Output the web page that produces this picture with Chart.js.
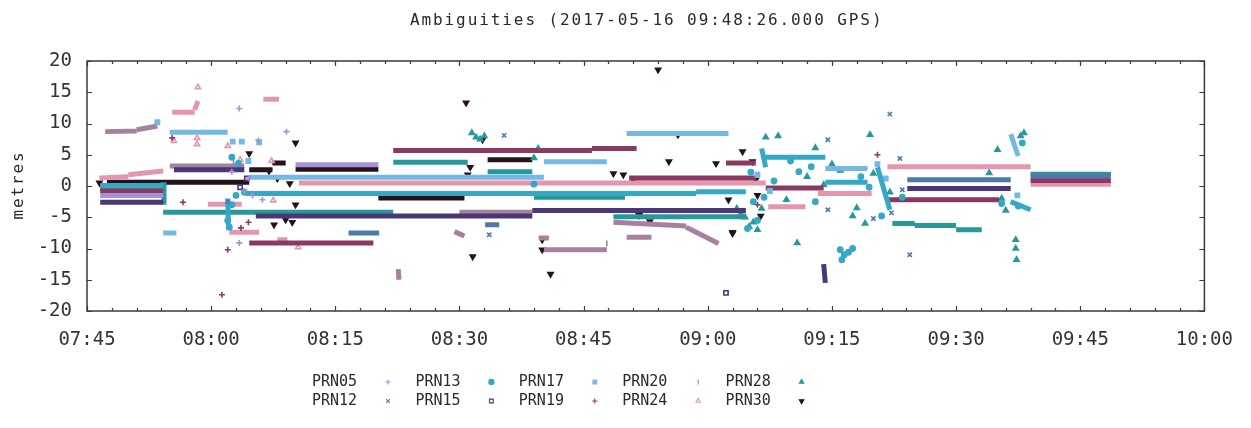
<!DOCTYPE html>
<html>
<head>
<meta charset="utf-8">
<title>Ambiguities</title>
<script src="https://cdn.jsdelivr.net/npm/chart.js@4.4.1/dist/chart.umd.min.js"></script>
<style>
  html, body { margin: 0; padding: 0; background: #fff; }
  #wrap { width: 1251px; height: 428px; position: relative; }
</style>
</head>
<body>
<div id="wrap"><canvas id="myChart" width="1251" height="428"></canvas></div>
<script>
/* globals Chart:false */

// Axis ranges and ticks
const timeMin = "07:45";
const timeMax = "10:00";
const timeStep = 15;
const minorStep = 3;
const yTicks = [-20, -15, -10, -5, 0, 5, 10, 15, 20];

const titleText = "Ambiguities (2017-05-16 09:48:26.000 GPS)";
const yTitle = "metres";

const prnNames = ["PRN05", "PRN12", "PRN13", "PRN15", "PRN17", "PRN19", "PRN20", "PRN24", "PRN28", "PRN30"];

// Each arc: [start, end, value at start, value at end (optional)]
const prn05Arcs = [
  ["07:46.6", "07:54.2", -1.5],
  ["08:10.2", "08:20.2", 3.4],
];
const prn05Points = [
  ["08:03.4", 12.4], ["08:05.7", 7.3], ["08:09.1", 8.7], ["08:04.5", 1.3],
  ["08:05", -1.5], ["08:04", -0.8], ["08:02.5", 2.3], ["08:06.2", -2.2], ["08:03.4", -9.1],
];

const prn12Arcs = [
  ["08:16.6", "08:20.3", -7.5],
  ["08:33.1", "08:34.8", -6.2],
  ["09:24.1", "09:36.6", 1.0],
  ["09:39", "09:48.7", 1.6],
];
const prn12Points = [
  ["08:35.4", 8.1], ["08:33.6", -7.8], ["09:22", 11.5], ["09:14.5", 7.4], ["09:23.2", 4.4],
  ["09:24.4", -11], ["09:14.5", -3.8], ["09:22.2", -4.3], ["09:23.5", -0.6], ["08:02", -2.5], ["09:20", -5.2],
];

const prn13Arcs = [
  ["07:46.6", "07:54.2", 0.1],
  ["08:04.2", "08:58.6", -1.2],
  ["08:58.6", "09:04.6", -0.9],
  ["09:07", "09:14.2", 4.6],
  ["09:06.5", "09:07", 6.0, 3.0],
  ["09:14.2", "09:19.3", 0.6],
  ["09:20.5", "09:22", 3.0, -3.8],
  ["08:02", "08:02.1", -2, -7],
  ["09:36.6", "09:39", -2.5, -3.8],
];
const prn13Points = [
  ["08:02", -5.5], ["08:02.2", -6.6], ["08:02.5", -3], ["08:03", -1.5], ["08:04", -1.0], ["08:03.3", 3.6],
  ["08:02.5", 4.6], ["08:39", 0.3], ["09:16", -10.2], ["09:16.5", -11], ["09:17", -10.6], ["09:16.2", -11.8],
  ["09:17.5", -10.0], ["09:05.5", -2.5], ["09:06", -5.5], ["09:04.8", -6.8], ["09:10", 4.0], ["09:13", -2.5],
  ["09:18.5", 1.5], ["09:21", -4.8], ["09:35.5", -2.8], ["09:37.5", -3.2], ["09:38", 6.9], ["09:23.5", -1.8],
  ["09:05.2", 2.2], ["09:06.8", -1.8], ["09:08", 0.8], ["09:11", 2.3], ["09:12.5", 3.1], ["09:19.5", -0.2],
];

const prn15Arcs = [
  ["07:46.6", "07:54.2", -2.6],
  ["07:55.5", "08:04", 2.6],
  ["08:05.4", "08:38.8", -4.8],
  ["08:38.8", "09:04.6", -3.9],
  ["09:24.1", "09:36.6", -0.4],
  ["09:14", "09:14.2", -12.5, -15.5],
];
const prn15Points = [
  ["09:02.2", -17.1], ["08:03.5", -0.2], ["08:04.3", 1.2],
];

const prn17Arcs = [
  ["07:55", "08:02", 8.6],
  ["07:54.2", "07:55.8", -7.5],
  ["08:04.6", "08:40.2", 1.4],
  ["08:40.2", "08:47.8", 3.9],
  ["08:50.2", "09:02.5", 8.4],
  ["09:14.2", "09:19.3", 2.8],
  ["09:36.6", "09:37.5", 8.3, 4.8],
];
const prn17Points = [
  ["07:53.5", 10.2], ["08:02.6", 7.1], ["08:03.7", 7.1], ["08:05.8", 7.0], ["08:04.5", 4.0],
  ["09:20.5", 3.5], ["09:37.4", -1.5], ["09:06", 1.8], ["09:07.5", -0.8], ["09:21.5", 1.2],
];

const prn19Arcs = [
  ["07:46.6", "07:54.2", -0.8],
  ["08:04.6", "08:19.6", -9.1],
  ["08:22", "08:46", 5.7],
  ["08:46", "08:51.4", 6.0],
  ["08:50.5", "09:05.8", 1.3],
  ["09:02.2", "09:05.8", 3.7],
  ["09:07", "09:14", -0.3],
  ["09:21.7", "09:35.2", -2.2],
  ["09:39", "09:48.7", 0.9],
];
const prn19Points = [
  ["07:55.3", 7.7], ["07:56.6", -2.6], ["08:01.3", -17.4], ["08:02", -10.2], ["09:20.5", 5.0],
  ["08:04.5", -5.8], ["08:03.6", -6.7], ["09:06", -3.0],
];

const prn20Arcs = [
  ["07:47.2", "07:51", 8.7, 8.8],
  ["07:51", "07:53.5", 9.0, 9.6],
  ["07:55", "08:04", 3.2],
  ["08:30", "08:38.8", -4.2],
  ["08:48.6", "08:57.4", -5.8, -6.4],
  ["08:57.4", "09:01.3", -6.6, -9.2],
  ["08:40.2", "08:47.8", -10.2],
  ["08:50.2", "08:53.2", -8.2],
  ["08:22.6", "08:22.7", -13.3, -15.0],
  ["08:29.4", "08:30.6", -7.3, -8.0],
  ["08:39.6", "08:40.8", -8.3],
];
const prn20Points = [
  ["08:02.7", 3.8], ["08:47.8", -9.2],
];

const prn24Arcs = [
  ["07:46.5", "07:50", 1.3, 1.5],
  ["07:50", "07:54.2", 1.8, 2.4],
  ["07:55.3", "07:58", 11.8],
  ["07:58", "07:58.4", 12.2, 13.6],
  ["08:06.3", "08:08.2", 13.9],
  ["07:59.6", "08:03.7", -2.9],
  ["08:02.2", "08:05.8", -7.4],
  ["08:10.6", "09:07", 0.5],
  ["09:07.3", "09:11.8", -3.3],
  ["09:13.3", "09:19.8", -1.2],
  ["09:21.7", "09:39", 3.1],
  ["09:39", "09:48.7", 0.3],
  ["08:08", "08:09.2", -8.6],
];
const prn24Points = [
  ["07:58.4", 15.8], ["07:55.5", 7.2], ["07:58.3", 6.7], ["07:58.3", 7.7], ["08:02", 6.4],
  ["08:07.3", 4.0], ["08:03.5", 4.2], ["08:10.5", -9.8], ["08:07.5", -2.3],
];

const prn28Arcs = [
  ["07:46.6", "07:54.2", -0.4],
  ["07:54.2", "07:54.3", 0.6, -3.0],
  ["07:54.2", "08:22", -4.2],
  ["08:22", "08:31", 3.8],
  ["08:33.4", "08:38.8", 2.3],
  ["08:39", "08:50", -1.8],
  ["08:48.6", "09:04.6", -4.9],
  ["09:22.3", "09:25", -6.0],
  ["09:25", "09:30", -6.3],
  ["09:30", "09:33.1", -7.0],
  ["09:39", "09:48.7", 1.9],
];
const prn28Points = [
  ["08:31.5", 8.5], ["08:32.5", 7.5], ["08:33", 8.0], ["08:32", 7.8], ["09:07", 7.8], ["09:08.5", 8.0],
  ["09:13", 6.1], ["09:19.6", 8.2], ["09:35", 5.8], ["09:38.2", 8.5], ["09:37.8", 8.0], ["09:37.2", -8.6],
  ["09:37.2", -10], ["09:37.3", -11.8], ["09:10.8", -9.1], ["09:09.5", -2.2], ["09:03.5", -3.6],
  ["09:04.5", -5.0], ["09:05", -6.5], ["09:06", -7.0], ["09:04", -4.4], ["09:12", 1.5], ["09:17.5", -4.8],
  ["09:18", -3.5], ["09:19", -6.0], ["09:34", 2.1], ["09:35.5", -2.0], ["09:36", -3.9], ["08:39", 4.5],
  ["08:39.5", 6.0], ["09:15", 3.5], ["09:16", 2.5], ["09:05.5", -5.8], ["09:06.5", -3.6], ["09:14", 0.2],
  ["09:20", 2.0], ["09:22", -1.0],
];

const prn30Arcs = [
  ["07:47.4", "08:04.6", 0.6],
  ["08:04.6", "08:07.4", 2.6],
  ["08:07.4", "08:09", 3.7],
  ["08:10.2", "08:20.2", 2.7],
  ["08:20.2", "08:30.6", -1.9],
  ["08:33.4", "08:38.8", 4.2],
];
const prn30Points = [
  ["08:04.6", 5.2], ["08:10.2", 6.9], ["08:08", 1.2], ["08:09.5", 0.4], ["08:10.2", -3.0], ["08:07.6", -6.2],
  ["08:09.8", -5.8], ["08:09", -5.4], ["08:30.8", 13.3], ["08:54", 18.6], ["08:32.8", 7.4], ["08:31.3", 3.0],
  ["08:31", 1.8], ["08:56.4", 8.2], ["08:55.3", 3.9], ["08:48.6", 2.0], ["08:49.8", 1.8], ["08:51", 1.0],
  ["08:40", -8.6], ["08:40", -10.2], ["08:41", -14.1], ["08:31.6", -11.3], ["08:51.7", -4.7], ["08:53", -5.7],
  ["09:03", -7.6], ["09:01", 3.6], ["09:04.2", 5.5], ["09:05.4", 3.9], ["09:03", -7.4], ["09:05.8", 1.0],
  ["09:06", -1.5], ["09:06.4", -4.8], ["09:02.5", -2.2], ["08:07", 2.4], ["07:46.5", 0.5],
];

// gnuplot-like colour and point type per satellite
const prnStyles = [
  { color: "#a792d6", style: "cross", rotation: 0, fill: true },
  { color: "#4f79a8", style: "crossRot", rotation: 0, fill: true },
  { color: "#35a8c6", style: "circle", rotation: 0, fill: true },
  { color: "#4a3778", style: "rect", rotation: 0, fill: false },
  { color: "#74b9e4", style: "rect", rotation: 0, fill: true },
  { color: "#8b3963", style: "cross", rotation: 0, fill: true },
  { color: "#a5819f", style: "line", rotation: 90, fill: true },
  { color: "#e596ae", style: "triangle", rotation: 0, fill: false },
  { color: "#28999b", style: "triangle", rotation: 0, fill: true },
  { color: "#26131a", style: "triangle", rotation: 180, fill: true },
];

const prnArcs = [prn05Arcs, prn12Arcs, prn13Arcs, prn15Arcs, prn17Arcs, prn19Arcs, prn20Arcs, prn24Arcs, prn28Arcs, prn30Arcs];
const prnPoints = [prn05Points, prn12Points, prn13Points, prn15Points, prn17Points, prn19Points, prn20Points, prn24Points, prn28Points, prn30Points];

const monoFont = "'DejaVu Sans Mono', 'Liberation Mono', monospace";

function toMinutes(clock) {
  const parts = clock.split(":");
  return parseInt(parts[0], 10) * 60 + parseFloat(parts[1]);
}

function toClock(minutes) {
  const h = Math.floor(minutes / 60);
  const m = Math.round(minutes - h * 60);
  return String(h).padStart(2, "0") + ":" + String(m).padStart(2, "0");
}

function arcData(arcs) {
  let out = [];
  for (let a of arcs) {
    const v1 = a.length > 3 ? a[3] : a[2];
    out.push({ x: toMinutes(a[0]), y: a[2] });
    out.push({ x: toMinutes(a[1]), y: v1 });
    out.push({ x: toMinutes(a[1]), y: null });
  }
  return out;
}

function pointData(points) {
  return points.map((p) => ({ x: toMinutes(p[0]), y: p[1] }));
}

// draw text with a fixed advance per character
function drawSpaced(ctx, text, x, y, advance) {
  const start = x - (text.length * advance) / 2;
  for (let i = 0; i < text.length; i++) {
    ctx.fillText(text[i], start + advance * (i + 0.5), y);
  }
}

let datasets = [];
prnNames.forEach((name, i) => {
  const s = prnStyles[i];
  datasets.push({
    label: name,
    data: arcData(prnArcs[i]),
    showLine: true,
    spanGaps: false,
    borderColor: s.color,
    borderWidth: 5,
    borderCapStyle: "butt",
    pointRadius: 0,
    pointHoverRadius: 0,
  });
  datasets.push({
    label: name + " points",
    data: pointData(prnPoints[i]),
    showLine: false,
    pointStyle: s.style,
    pointRotation: s.rotation,
    pointRadius: s.style === "circle" ? 2.6 : 3,
    pointBorderWidth: 1.6,
    pointBorderColor: s.color,
    pointBackgroundColor: s.fill ? s.color : "rgba(255,255,255,0)",
  });
});

// frame, inward ticks, title, axis title and legend
const gnuplotDecor = {
  id: "gnuplotDecor",
  afterDraw(chart) {
    const ctx = chart.ctx;
    const area = chart.chartArea;
    const xs = chart.scales.x;
    const ys = chart.scales.y;
    ctx.save();
    ctx.strokeStyle = "#3a3a3a";
    ctx.lineWidth = 1.5;
    ctx.strokeRect(area.left, area.top, area.right - area.left, area.bottom - area.top);

    ctx.lineWidth = 1.2;
    ctx.beginPath();
    for (let m = toMinutes(timeMin); m <= toMinutes(timeMax); m += minorStep) {
      const px = Math.round(xs.getPixelForValue(m)) + 0.5;
      const len = (m - toMinutes(timeMin)) % timeStep === 0 ? 5 : 3;
      ctx.moveTo(px, area.bottom);
      ctx.lineTo(px, area.bottom - len);
      ctx.moveTo(px, area.top);
      ctx.lineTo(px, area.top + len);
    }
    for (let v of yTicks) {
      const py = Math.round(ys.getPixelForValue(v)) + 0.5;
      ctx.moveTo(area.left, py);
      ctx.lineTo(area.left + 5, py);
      ctx.moveTo(area.right, py);
      ctx.lineTo(area.right - 5, py);
    }
    ctx.stroke();

    ctx.fillStyle = "#2a2a2a";
    ctx.textAlign = "center";
    ctx.textBaseline = "middle";
    ctx.font = "16px " + monoFont;
    drawSpaced(ctx, titleText, (area.left + area.right) / 2, 21, 11.55);

    ctx.save();
    ctx.translate(19, (area.top + area.bottom) / 2);
    ctx.rotate(-Math.PI / 2);
    drawSpaced(ctx, yTitle, 0, 0, 11.5);
    ctx.restore();

    // legend: two rows, text followed by the point symbol
    ctx.font = "15px " + monoFont;
    ctx.textAlign = "left";
    prnNames.forEach((name, i) => {
      const col = Math.floor(i / 2);
      const row = i % 2;
      const tx = 312 + col * 103.4;
      const ty = 382 + row * 19;
      ctx.fillStyle = "#2a2a2a";
      ctx.fillText(name, tx, ty);
      const s = prnStyles[i];
      ctx.strokeStyle = s.color;
      ctx.fillStyle = s.fill ? s.color : "rgba(255,255,255,0)";
      ctx.lineWidth = 1.1;
      Chart.helpers.drawPoint(ctx, { pointStyle: s.style, radius: 2.6, rotation: s.rotation, borderWidth: 1.1 }, tx + 76, ty);
    });
    ctx.restore();
  },
};

const ctx = document.getElementById("myChart");
const myChart = new Chart(ctx, {
  type: "line",
  data: { datasets: datasets },
  plugins: [gnuplotDecor],
  options: {
    responsive: false,
    animation: false,
    events: [],
    layout: { padding: { left: 0, right: 39, top: 61, bottom: 0 } },
    plugins: {
      legend: { display: false },
      title: { display: false },
      tooltip: { enabled: false },
    },
    scales: {
      x: {
        type: "linear",
        min: toMinutes(timeMin),
        max: toMinutes(timeMax),
        grid: { display: false, drawTicks: false },
        border: { display: false },
        afterFit(scale) { scale.height = 117; },
        ticks: {
          stepSize: timeStep,
          padding: 18,
          color: "#333",
          font: { family: monoFont, size: 19 },
          maxRotation: 0,
          autoSkip: false,
          callback: (v) => toClock(v),
        },
      },
      y: {
        min: -20,
        max: 20,
        grid: { display: false, drawTicks: false },
        border: { display: false },
        afterFit(scale) { scale.width = 87; },
        ticks: {
          stepSize: 5,
          padding: 15,
          color: "#333",
          font: { family: monoFont, size: 19 },
        },
      },
    },
  },
});
</script>
</body>
</html>
